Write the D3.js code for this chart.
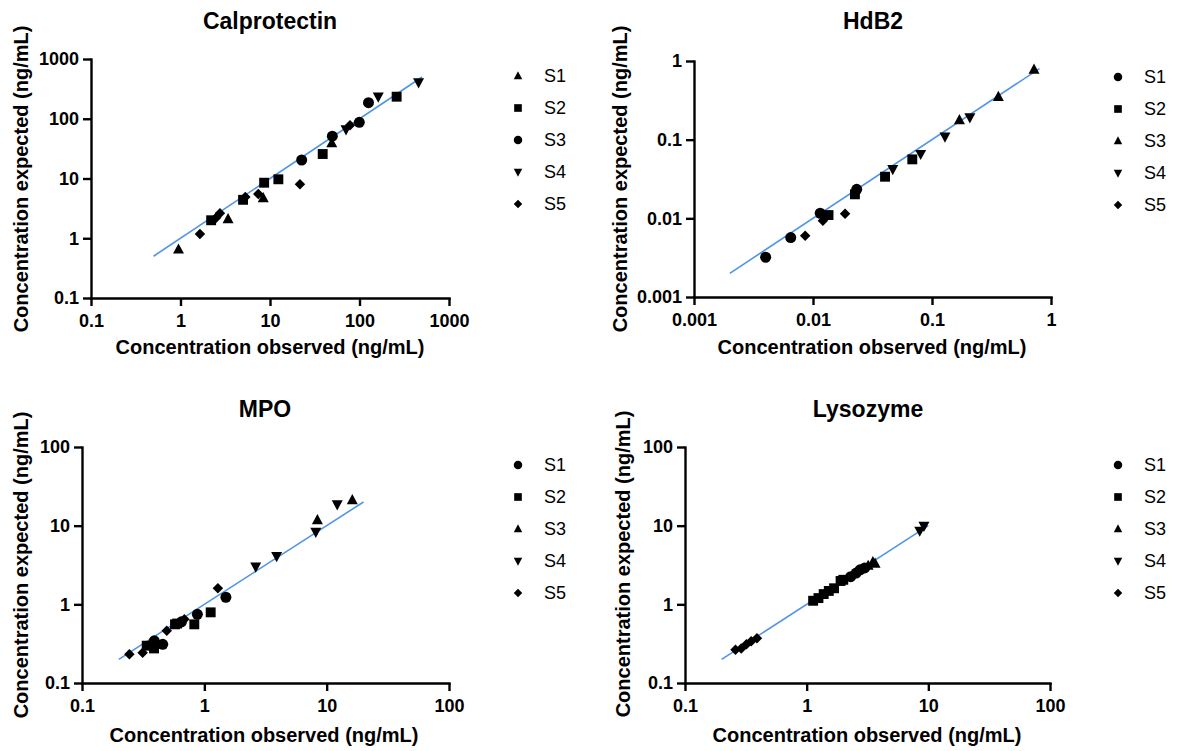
<!DOCTYPE html>
<html><head><meta charset="utf-8">
<script src="https://cdn.jsdelivr.net/npm/d3@7"></script>
<style>
body{margin:0;background:#fff}
svg{display:block}
text{font-family:"Liberation Sans",Arial,Helvetica,sans-serif;fill:#000}
</style>
</head><body>
<svg id="chart" width="1186" height="751"></svg>
<script>
// ---------- DATA ----------
const seriesNames = ["S1","S2","S3","S4","S5"];

// Calprotectin: [observed, expected]
const calS1 = [[0.95,0.65],[3.4,2.1],[8.4,4.7],[49,39]];
const calS2 = [[2.2,2.0],[5.0,4.4],[8.6,8.5],[12.4,9.7],[38.8,25.7],[260,234]];
const calS3 = [[22.6,20.4],[49.7,51],[99.5,87],[126,186]];
const calS4 = [[70.7,66.5],[162,234],[457,407]];
const calS5 = [[1.65,1.18],[2.5,2.2],[2.76,2.61],[5.3,4.9],[7.4,5.5],[21.6,8.0],[78.3,77.6]];
const calTicks = [0.1,1,10,100,1000];
const calTickLabels = ["0.1","1","10","100","1000"];
const calLine = [0.5,500];

// HdB2
const hdbS1 = [[0.0040,0.0032],[0.0065,0.0057],[0.0115,0.0116],[0.0233,0.0234]];
const hdbS2 = [[0.0135,0.0110],[0.0225,0.0202],[0.0403,0.0338],[0.0683,0.0562]];
const hdbS3 = [[0.170,0.177],[0.361,0.351],[0.72,0.78]];
const hdbS4 = [[0.0468,0.042],[0.0803,0.0656],[0.1285,0.109],[0.208,0.192]];
const hdbS5 = [[0.0086,0.0060],[0.0121,0.0093],[0.0186,0.0114]];
const hdbTicks = [0.001,0.01,0.1,1];
const hdbTickLabels = ["0.001","0.01","0.1","1"];
const hdbLine = [0.002,0.8];

// MPO
const mpoS1 = [[0.39,0.344],[0.457,0.31],[0.65,0.60],[0.877,0.747],[1.50,1.23]];
const mpoS2 = [[0.338,0.298],[0.388,0.275],[0.576,0.557],[0.60,0.57],[0.828,0.557],[1.127,0.791]];
const mpoS3 = [[8.4,11.8],[16.2,21.1]];
const mpoS4 = [[2.63,3.0],[3.9,4.1],[8.15,8.3],[12.2,18.6]];
const mpoS5 = [[0.244,0.232],[0.313,0.243],[0.493,0.462],[0.687,0.645],[1.29,1.6]];
const mpoTicks = [0.1,1,10,100];
const mpoTickLabels = ["0.1","1","10","100"];
const mpoLine = [0.2,20];

// Lysozyme
const lysS1 = [[2.3,2.25],[2.55,2.5],[2.75,2.75],[3.0,2.9]];
const lysS2 = [[1.13,1.11],[1.25,1.2],[1.38,1.35],[1.52,1.48],[1.68,1.6],[1.9,1.98],[2.0,2.05]];
const lysS3 = [[3.2,3.1],[3.5,3.45],[3.65,3.3]];
const lysS4 = [[8.5,8.6],[9.2,9.9]];
const lysS5 = [[0.26,0.265],[0.29,0.275],[0.32,0.31],[0.35,0.34],[0.39,0.37]];
const lysTicks = [0.1,1,10,100];
const lysTickLabels = ["0.1","1","10","100"];
const lysLine = [0.2,10];

const titles = ["Calprotectin","HdB2","MPO","Lysozyme"];
const xTitle = "Concentration observed (ng/mL)";
const yTitle = "Concentration expected (ng/mL)";

// ---------- SYMBOLS ----------
function symPath(type, s) {
  const h = s/2;
  switch (type) {
    case "triUp":   return `M0,${-s*0.55}L${h},${s*0.38}L${-h},${s*0.38}Z`;
    case "triDown": return `M0,${s*0.55}L${h},${-s*0.38}L${-h},${-s*0.38}Z`;
    case "square":  return `M${-h*0.9},${-h*0.9}H${h*0.9}V${h*0.9}H${-h*0.9}Z`;
    case "circle":  return d3.arc()({innerRadius:0,outerRadius:h,startAngle:0,endAngle:2*Math.PI});
    case "diamond": return `M0,${-h}L${h},0L0,${h}L${-h},0Z`;
  }
}

const svg = d3.select("#chart");
const lineColor = "#4f95e8";

function drawPanel(cfg) {
  const x = d3.scaleLog().domain(cfg.domain).range([cfg.left, cfg.right]);
  const y = d3.scaleLog().domain(cfg.domain).range([cfg.bottom, cfg.top]);
  const g = svg.append("g");

  // fit line
  g.append("line")
    .attr("x1", x(cfg.line[0])).attr("y1", y(cfg.line[0]))
    .attr("x2", x(cfg.line[1])).attr("y2", y(cfg.line[1]))
    .attr("stroke", lineColor).attr("stroke-width", 1.6);

  // points
  cfg.series.forEach((pts, i) => {
    g.append("g").selectAll("path").data(pts).enter().append("path")
      .attr("d", symPath(cfg.symbols[i], cfg.symbols[i]==="diamond" ? 10.5 : 11))
      .attr("transform", d => `translate(${x(d[0])},${y(d[1])})`)
      .attr("fill", "#000");
  });

  // axes
  const xa = d3.axisBottom(x).tickValues(cfg.ticks)
    .tickFormat((d,i) => cfg.tickLabels[i]).tickSize(8).tickSizeOuter(0).tickPadding(8);
  const ya = d3.axisLeft(y).tickValues(cfg.ticks)
    .tickFormat((d,i) => cfg.tickLabels[i]).tickSize(8).tickSizeOuter(0).tickPadding(4);
  const gx = g.append("g").attr("transform", `translate(0,${cfg.bottom})`).call(xa);
  const gy = g.append("g").attr("transform", `translate(${cfg.left},0)`).call(ya);
  [gx, gy].forEach(a => {
    a.select(".domain").attr("stroke", "#000").attr("stroke-width", 2.4).attr("stroke-linecap", "square");
    a.selectAll(".tick line").attr("stroke", "#000").attr("stroke-width", 2.4);
    a.selectAll(".tick text").attr("font-size", 18).attr("font-weight", "bold")
      .attr("font-family", '"Liberation Sans",Arial,sans-serif').attr("fill", "#000");
  });

  // title
  g.append("text").attr("x", cfg.titleX).attr("y", cfg.titleY)
    .attr("text-anchor", "middle").attr("font-size", 23).attr("font-weight", "bold").text(cfg.title);
  // x title
  g.append("text").attr("x", cfg.xtX).attr("y", cfg.xtY)
    .attr("text-anchor", "middle").attr("font-size", 20).attr("font-weight", "bold").text(xTitle);
  // y title
  g.append("text").attr("transform", `translate(${cfg.ytX},${cfg.ytY}) rotate(-90)`)
    .attr("text-anchor", "middle").attr("font-size", 20).attr("font-weight", "bold").text(yTitle);

  // legend
  const lg = g.append("g");
  seriesNames.forEach((name, i) => {
    const ly = cfg.legY + i * 32;
    lg.append("path").attr("d", symPath(cfg.symbols[i], 8.5))
      .attr("transform", `translate(${cfg.legX},${ly})`).attr("fill", "#000");
    lg.append("text").attr("x", cfg.legX + 26).attr("y", ly).attr("dy", "0.35em")
      .attr("font-size", 18).text(name);
  });
}

const symA = ["triUp","square","circle","triDown","diamond"];
const symB = ["circle","square","triUp","triDown","diamond"];

drawPanel({title: titles[0], domain:[0.1,1000], left:91, right:449, top:59, bottom:298,
  ticks: calTicks, tickLabels: calTickLabels, line: calLine,
  series:[calS1,calS2,calS3,calS4,calS5], symbols: symA,
  titleX:270, titleY:29, xtX:270, xtY:354, ytX:28, ytY:179, legX:518, legY:76});
drawPanel({title: titles[1], domain:[0.001,1], left:694, right:1051, top:61, bottom:297,
  ticks: hdbTicks, tickLabels: hdbTickLabels, line: hdbLine,
  series:[hdbS1,hdbS2,hdbS3,hdbS4,hdbS5], symbols: symB,
  titleX:873, titleY:29, xtX:872, xtY:354, ytX:627, ytY:179, legX:1118, legY:77});
drawPanel({title: titles[2], domain:[0.1,100], left:82, right:449, top:447, bottom:683,
  ticks: mpoTicks, tickLabels: mpoTickLabels, line: mpoLine,
  series:[mpoS1,mpoS2,mpoS3,mpoS4,mpoS5], symbols: symB,
  titleX:265, titleY:417, xtX:264, xtY:742, ytX:28, ytY:565, legX:518, legY:465});
drawPanel({title: titles[3], domain:[0.1,100], left:685, right:1050, top:447, bottom:683,
  ticks: lysTicks, tickLabels: lysTickLabels, line: lysLine,
  series:[lysS1,lysS2,lysS3,lysS4,lysS5], symbols: symB,
  titleX:868, titleY:417, xtX:867, xtY:742, ytX:630, ytY:564, legX:1118, legY:465});
</script>
</body></html>
